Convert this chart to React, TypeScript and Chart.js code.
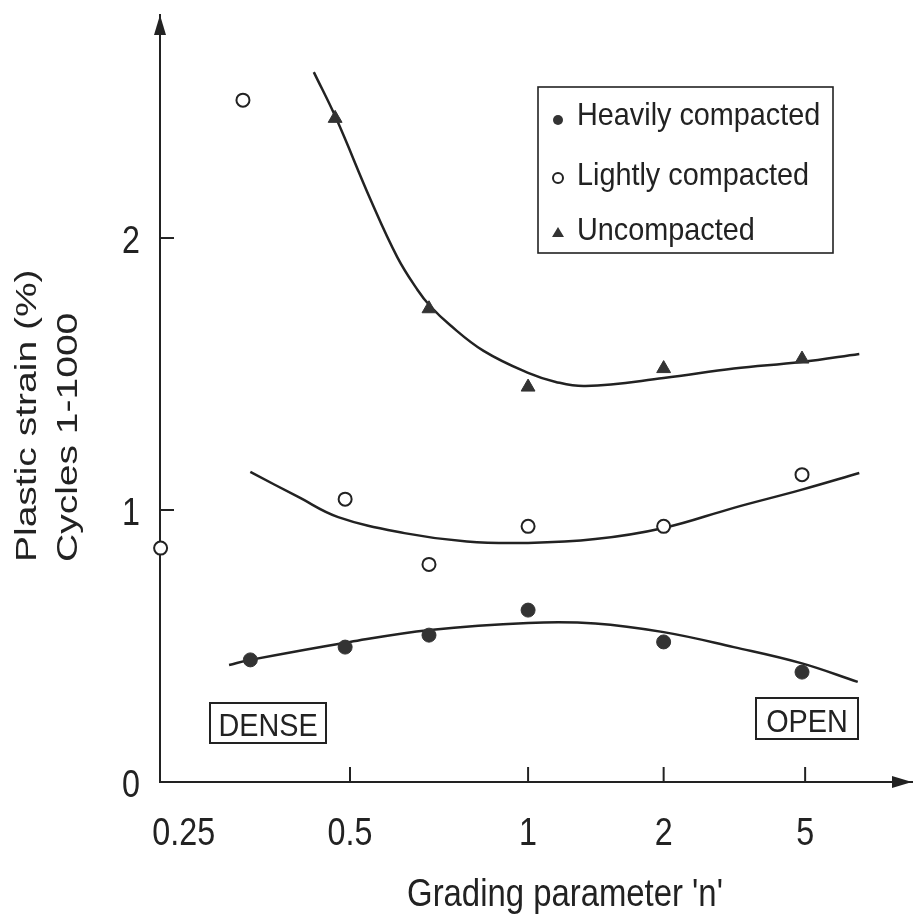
import React, { useEffect, useRef } from "react";
import { Chart, registerables } from "chart.js";

Chart.register(...registerables);

// ---- axis definition (non-uniform grading-parameter axis) ----
const TICK_N = [0.25, 0.5, 1, 2, 5];
const TICK_LABELS = ["0.25", "0.5", "1", "2", "5"];
const TICK_U = [24, 192, 372, 509, 652]; // axis units of each tick along the x scale
const X_MIN = 0;
const X_MAX = 760;
const Y_MIN = 0;
const Y_MAX = 2.82;
const Y_TICKS = [0, 1, 2];

// ---- measured points ----
const heavyN = [0.33, 0.49, 0.68, 1, 2, 4.9];
const heavyY = [0.449, 0.496, 0.54, 0.632, 0.515, 0.404];

const lightN = [0.227, 0.32, 0.49, 0.68, 1, 2, 4.9];
const lightY = [0.86, 2.507, 1.04, 0.8, 0.94, 0.94, 1.13];

const unN = [0.47, 0.68, 1, 2, 4.9];
const unY = [2.44, 1.74, 1.452, 1.52, 1.555];

// ---- fitted curves ----
const unCurveN = [0.43, 0.472, 0.542, 0.601, 0.65, 0.683, 0.738, 0.841, 1, 1.152, 1.341, 2, 3.15, 4.87, 7.1];
const unCurveY = [2.61, 2.44, 2.14, 1.93, 1.81, 1.75, 1.68, 1.585, 1.504, 1.471, 1.456, 1.485, 1.52, 1.544, 1.574];

const lightCurveN = [0.33, 0.403, 0.476, 0.618, 0.788, 1, 1.41, 2, 3.15, 4.87, 7.1];
const lightCurveY = [1.14, 1.048, 0.974, 0.915, 0.884, 0.879, 0.893, 0.934, 1.008, 1.074, 1.136];

const heavyCurveN = [0.302, 0.33, 0.5, 0.683, 1, 1.41, 2, 3.15, 4.87, 7.03];
const heavyCurveY = [0.43, 0.449, 0.515, 0.559, 0.585, 0.583, 0.551, 0.496, 0.437, 0.368];

const LEGEND = ["Heavily compacted", "Lightly compacted", "Uncompacted"];
const X_TITLE = "Grading parameter 'n'";
const Y_TITLE = ["Plastic strain (%)", "Cycles 1-1000"];

const INK = "#222";
const FONT = '"Liberation Sans", Arial, Helvetica, sans-serif';

function nToU(n: number): number {
  const l = Math.log2(n);
  const L = TICK_N.map((t) => Math.log2(t));
  let i = 0;
  if (l <= L[0]) i = 0;
  else if (l >= L[L.length - 1]) i = L.length - 2;
  else {
    for (let k = 0; k < L.length - 1; k++) {
      if (l >= L[k] && l <= L[k + 1]) {
        i = k;
        break;
      }
    }
  }
  const f = (l - L[i]) / (L[i + 1] - L[i]);
  return TICK_U[i] + f * (TICK_U[i + 1] - TICK_U[i]);
}

function pts(ns: number[], ys: number[]) {
  return ns.map((n, i) => ({ x: nToU(n), y: ys[i] }));
}

function txt(
  ctx: CanvasRenderingContext2D,
  s: string,
  x: number,
  y: number,
  size: number,
  align: CanvasTextAlign,
  sx: number,
  rot = 0
) {
  ctx.save();
  ctx.font = `${size}px ${FONT}`;
  ctx.fillStyle = INK;
  ctx.textBaseline = "alphabetic";
  ctx.textAlign = align;
  ctx.translate(x, y);
  if (rot) ctx.rotate(rot);
  ctx.scale(sx, 1);
  ctx.fillText(s, 0, 0);
  ctx.restore();
}

const decorPlugin = {
  id: "decor",
  afterDraw(chart: any) {
    const ctx: CanvasRenderingContext2D = chart.ctx;
    const xs = chart.scales.x;
    const ys = chart.scales.y;
    const ca = chart.chartArea;
    const x0 = ca.left;
    const y0 = ys.getPixelForValue(0);

    ctx.save();
    ctx.strokeStyle = INK;
    ctx.fillStyle = INK;
    ctx.lineWidth = 2;

    // tick marks (inward)
    TICK_N.forEach((n, i) => {
      if (i === 0) return;
      const px = xs.getPixelForValue(nToU(n));
      ctx.beginPath();
      ctx.moveTo(px, y0);
      ctx.lineTo(px, y0 - 15);
      ctx.stroke();
    });
    Y_TICKS.forEach((v) => {
      if (v === 0) return;
      const py = ys.getPixelForValue(v);
      ctx.beginPath();
      ctx.moveTo(x0, py);
      ctx.lineTo(x0 + 14, py);
      ctx.stroke();
    });

    // arrow heads
    ctx.beginPath();
    ctx.moveTo(x0, ca.top);
    ctx.lineTo(x0 - 6, ca.top + 20);
    ctx.lineTo(x0 + 6, ca.top + 20);
    ctx.closePath();
    ctx.fill();
    ctx.beginPath();
    ctx.moveTo(ca.right, y0);
    ctx.lineTo(ca.right - 20, y0 - 6);
    ctx.lineTo(ca.right - 20, y0 + 6);
    ctx.closePath();
    ctx.fill();
    ctx.restore();

    // tick labels
    TICK_N.forEach((n, i) => {
      const px = xs.getPixelForValue(nToU(n));
      txt(ctx, TICK_LABELS[i], px, 845, 38, "center", 0.85);
    });
    Y_TICKS.forEach((v) => {
      const py = ys.getPixelForValue(v);
      txt(ctx, String(v), 140, py + 15, 38, "right", 0.85);
    });

    // axis titles
    txt(ctx, X_TITLE, 565, 906, 38, "center", 0.865);
    txt(ctx, Y_TITLE[0], 36, 562, 30, "left", 1.3, -Math.PI / 2);
    txt(ctx, Y_TITLE[1], 77, 562, 30, "left", 1.3, -Math.PI / 2);

    // DENSE / OPEN boxes
    ctx.save();
    ctx.strokeStyle = INK;
    ctx.lineWidth = 2;
    ctx.strokeRect(210, 703, 116, 40);
    ctx.strokeRect(756, 698, 102, 41);
    ctx.restore();
    txt(ctx, "DENSE", 268, 736, 32, "center", 0.9);
    txt(ctx, "OPEN", 807, 732, 32, "center", 0.9);

    // legend
    ctx.save();
    ctx.strokeStyle = INK;
    ctx.lineWidth = 1.6;
    ctx.strokeRect(538, 87, 295, 166);
    ctx.fillStyle = "#333";
    ctx.beginPath();
    ctx.arc(558, 120, 5, 0, Math.PI * 2);
    ctx.fill();
    ctx.fillStyle = "#fff";
    ctx.lineWidth = 2;
    ctx.beginPath();
    ctx.arc(558, 178, 5, 0, Math.PI * 2);
    ctx.fill();
    ctx.stroke();
    ctx.fillStyle = "#333";
    ctx.beginPath();
    ctx.moveTo(558, 227);
    ctx.lineTo(552, 237);
    ctx.lineTo(564, 237);
    ctx.closePath();
    ctx.fill();
    ctx.restore();
    txt(ctx, LEGEND[0], 577, 125, 32, "left", 0.9);
    txt(ctx, LEGEND[1], 577, 185, 32, "left", 0.9);
    txt(ctx, LEGEND[2], 577, 240, 32, "left", 0.9);
  },
};

export default function App() {
  const ref = useRef<HTMLCanvasElement | null>(null);

  useEffect(() => {
    document.body.style.margin = "0";
    const canvas = ref.current;
    if (!canvas) return;

    const curve = (ns: number[], ys: number[]) => ({
      type: "line" as const,
      data: pts(ns, ys),
      borderColor: INK,
      borderWidth: 2.5,
      pointRadius: 0,
      showLine: true,
      tension: 0.4,
      fill: false,
      order: 2,
      clip: false as any,
    });

    const chart = new Chart(canvas, {
      type: "scatter",
      data: {
        datasets: [
          {
            label: LEGEND[0],
            data: pts(heavyN, heavyY),
            pointStyle: "circle",
            pointRadius: 7,
            backgroundColor: "#333",
            borderColor: "#333",
            borderWidth: 1,
            order: 0,
            clip: false as any,
          },
          {
            label: LEGEND[1],
            data: pts(lightN, lightY),
            pointStyle: "circle",
            pointRadius: 6.5,
            backgroundColor: "#fff",
            borderColor: INK,
            borderWidth: 2,
            order: 0,
            clip: false as any,
          },
          {
            label: LEGEND[2],
            data: pts(unN, unY),
            pointStyle: "triangle",
            pointRadius: 8,
            backgroundColor: "#333",
            borderColor: "#333",
            borderWidth: 1,
            order: 0,
            clip: false as any,
          },
          { label: "fit-heavy", ...curve(heavyCurveN, heavyCurveY) } as any,
          { label: "fit-light", ...curve(lightCurveN, lightCurveY) } as any,
          { label: "fit-un", ...curve(unCurveN, unCurveY) } as any,
        ],
      },
      options: {
        animation: false,
        responsive: false,
        devicePixelRatio: 1,
        layout: { padding: { left: 160, top: 15, right: 1, bottom: 139 } },
        plugins: {
          legend: { display: false },
          tooltip: { enabled: false },
        },
        scales: {
          x: {
            type: "linear",
            min: X_MIN,
            max: X_MAX,
            grid: { display: false },
            ticks: { display: false },
            border: { display: true, color: INK, width: 2 },
            afterFit: (s: any) => {
              s.height = 0;
            },
          },
          y: {
            type: "linear",
            min: Y_MIN,
            max: Y_MAX,
            grid: { display: false },
            ticks: { display: false },
            border: { display: true, color: INK, width: 2 },
            afterFit: (s: any) => {
              s.width = 0;
            },
          },
        },
      },
      plugins: [decorPlugin],
    });

    return () => {
      chart.destroy();
    };
  }, []);

  return (
    <div style={{ width: 921, height: 921, background: "#fff" }}>
      <canvas ref={ref} width={921} height={921} style={{ display: "block" }} />
    </div>
  );
}
